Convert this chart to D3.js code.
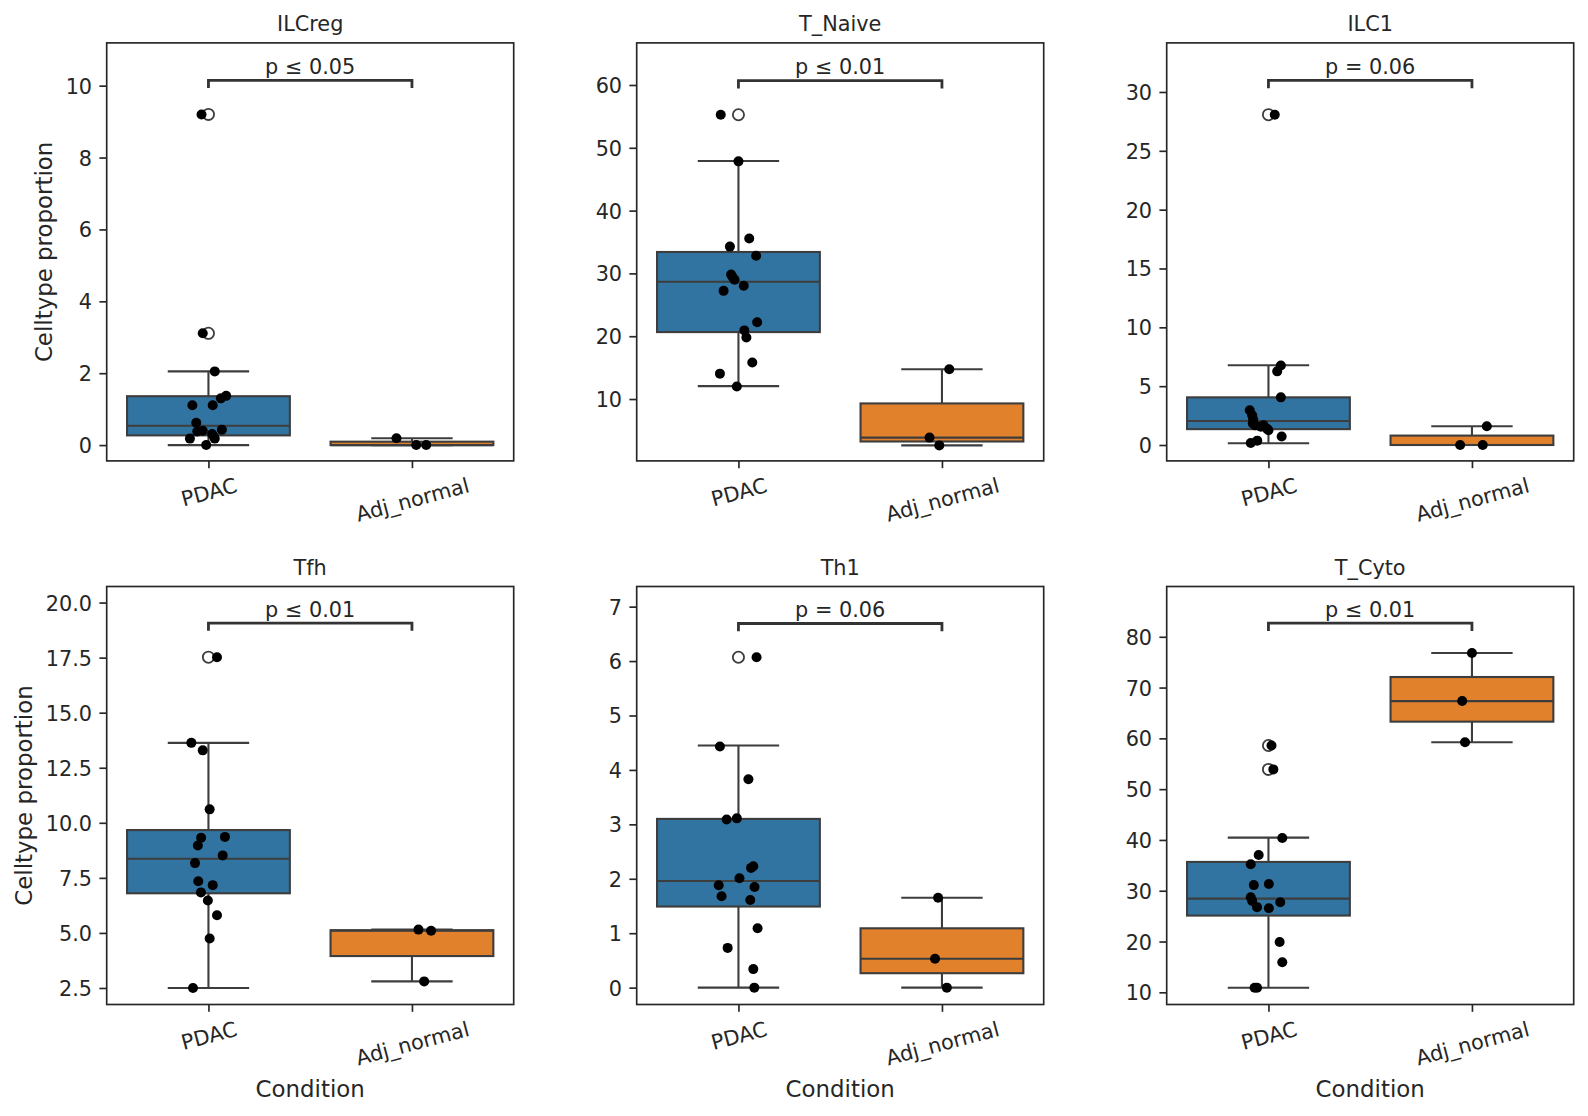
<!DOCTYPE html>
<html><head><meta charset="utf-8">
<script src="https://cdn.jsdelivr.net/npm/d3@7"></script>
<style>
body{margin:0;background:#fff}
svg text{font-family:"DejaVu Sans",sans-serif;fill:#262626}
</style>
</head><body>
<svg id="c" width="1588" height="1116"></svg>
<script>
// ---------- DATA ----------
const panels = ["ILCreg","T_Naive","ILC1","Tfh","Th1","T_Cyto"];
const conditions = ["PDAC","Adj_normal"];
const pLabels = ["p \u2264 0.05","p \u2264 0.01","p = 0.06","p \u2264 0.01","p = 0.06","p \u2264 0.01"];
const yDomains = [[-0.44,11.19],[0.15,66.7],[-1.35,34.17],[1.75,20.73],[-0.31,7.37],[7.6,89.9]];
const yTicks = [
  [0,2,4,6,8,10],
  [10,20,30,40,50,60],
  [0,5,10,15,20,25,30],
  [2.5,5,7.5,10,12.5,15,17.5,20],
  [0,1,2,3,4,5,6,7],
  [10,20,30,40,50,60,70,80]
];
const yTickFormats = ["d","d","d",".1f","d","d"];

// PDAC sample values and their strip jitter (category units)
const pdacValues = [
  [9.2,3.11,2.05,1.37,1.3,1.11,1.11,0.62,0.38,0.4,0.31,0.43,0.18,0.18,0.0,0.24],
  [55.26,47.84,35.57,34.27,32.82,29.81,29.0,28.03,27.22,22.22,20.93,19.8,15.81,14.04,11.99,29.4],
  [28.07,6.75,6.26,4.05,2.96,2.53,2.18,1.84,1.67,1.67,1.38,1.26,0.72,0.37,0.17,1.55],
  [17.52,13.63,13.29,10.61,9.32,9.36,8.97,8.52,8.17,7.35,7.17,6.84,6.47,5.8,4.75,2.5],
  [6.07,4.43,3.83,3.09,3.11,2.23,2.2,2.01,1.88,1.85,1.68,1.61,1.09,0.73,0.34,0.0],
  [58.59,53.89,40.37,37.04,35.23,31.33,31.11,28.73,28.0,27.72,26.77,26.56,19.91,15.93,10.9,10.9]
];
const pdacJitter = [
  [-0.034,-0.028,0.031,0.087,0.061,-0.079,0.021,-0.06,-0.055,-0.028,0.018,0.066,-0.091,0.031,-0.011,0.026],
  [-0.087,0,0.053,-0.042,0.087,-0.036,-0.019,0.026,-0.073,0.092,0.029,0.039,0.068,-0.091,-0.008,-0.028],
  [0.031,0.061,0.043,0.061,-0.092,-0.08,-0.075,-0.077,-0.065,-0.024,-0.007,0,0.065,-0.055,-0.087,-0.037],
  [0.042,-0.084,-0.028,0.006,-0.036,0.081,-0.052,0.07,-0.066,-0.05,0.021,-0.037,-0.003,0.042,0.006,-0.076],
  [0.089,-0.091,0.049,-0.058,-0.008,0.073,0.062,0.005,-0.097,0.079,-0.083,0.058,0.094,-0.053,0.073,0.078],
  [0.015,0.024,0.068,-0.048,-0.087,0.002,-0.072,-0.087,-0.08,0.058,-0.056,0.002,0.055,0.068,-0.068,-0.056]
];
// Adj_normal sample values and jitter
const adjValues = [
  [0.19,0.0,0.0],
  [14.74,3.86,2.62],
  [1.6,0.0,0.0],
  [5.15,5.1,2.8],
  [1.65,0.53,0.0],
  [76.81,67.34,59.24]
];
const adjJitter = [
  [-0.076,0.021,0.07],
  [0.036,-0.061,-0.013],
  [0.073,-0.058,0.053],
  [0.032,0.094,0.06],
  [-0.019,-0.034,0.024],
  [0,-0.048,-0.034]
];
// box statistics [whisker low, Q1, median, Q3, whisker high]
const pdacBox = [
  [0,0.27,0.54,1.36,2.05],
  [12.05,20.66,28.68,33.41,47.89],
  [0.15,1.35,2.04,4.05,6.78],
  [2.5,6.8,8.37,9.67,13.63],
  [0,1.49,1.96,3.1,4.45],
  [10.9,25.11,28.44,35.67,40.45]
];
const adjBox = [
  [0,0,0,0.095,0.19],
  [2.62,3.24,3.86,9.3,14.74],
  [0,0,0,0.8,1.6],
  [2.8,3.95,5.1,5.125,5.15],
  [0,0.265,0.53,1.09,1.65],
  [59.24,63.29,67.34,72.08,76.81]
];
const pdacFliers = [[9.2,3.11],[55.26],[28.07],[17.52],[6.07],[58.59,53.89]];
const adjFliers = [[],[],[],[],[],[]];
const bracketLevels = [10.15,60.7,30.98,19.07,6.69,82.67];

// ---------- LAYOUT / STYLE ----------
const colX = [106.7,636.7,1166.7], rowY = [42.9,586.5];
const PW = 407, PH = 418;
const boxColors = ["#3274a1","#e1812c"];
const edge = "#3d3d3d", axisCol = "#262626";
const FS = 20.8, LFS = 22.9;
const TICK = 7.3, PAD = 7.3;
const sin15 = Math.sin(15*Math.PI/180), cos15 = Math.cos(15*Math.PI/180);

const svg = d3.select("#c");

panels.forEach((name,i)=>{
  const col = i%3, row = Math.floor(i/3);
  const x0 = colX[col], y0 = rowY[row];
  const x = d3.scaleLinear().domain([-0.5,1.5]).range([x0,x0+PW]);
  const y = d3.scaleLinear().domain(yDomains[i]).range([y0+PH,y0]);
  const g = svg.append("g");

  const groups = [
    {vals:pdacValues[i], jit:pdacJitter[i], box:pdacBox[i], fl:pdacFliers[i]},
    {vals:adjValues[i], jit:adjJitter[i], box:adjBox[i], fl:adjFliers[i]}
  ];
  const hw = x(0.4)-x(0), cw = x(0.2)-x(0);

  groups.forEach((gr,k)=>{
    const cx = x(k);
    const [lo,q1,md,q3,hi] = gr.box;
    const ln = (xa,ya,xb,yb)=>g.append("line").attr("x1",xa).attr("y1",ya).attr("x2",xb).attr("y2",yb)
        .attr("stroke",edge).attr("stroke-width",2.1);
    ln(cx,y(q3),cx,y(hi));
    ln(cx,y(q1),cx,y(lo));
    ln(cx-cw,y(hi),cx+cw,y(hi));
    ln(cx-cw,y(lo),cx+cw,y(lo));
    g.append("rect").attr("x",cx-hw).attr("y",y(q3)).attr("width",2*hw)
      .attr("height",Math.max(0,y(q1)-y(q3)))
      .attr("fill",boxColors[k]).attr("stroke",edge).attr("stroke-width",2.1);
    ln(cx-hw,y(md),cx+hw,y(md));
    g.selectAll(null).data(gr.fl).enter().append("circle")
      .attr("cx",cx).attr("cy",d=>y(d)).attr("r",5.6)
      .attr("fill","none").attr("stroke",edge).attr("stroke-width",1.8);
  });

  groups.forEach((gr,k)=>{
    g.selectAll(null).data(gr.vals.map((v,j)=>({v,j:gr.jit[j]}))).enter().append("circle")
      .attr("cx",d=>x(k+d.j)).attr("cy",d=>y(d.v)).attr("r",5).attr("fill","#000");
  });

  // significance bracket
  const by = y(bracketLevels[i]);
  g.append("path")
    .attr("d",`M${x(0)},${by+7.8}L${x(0)},${by}L${x(1)},${by}L${x(1)},${by+7.8}`)
    .attr("fill","none").attr("stroke","#333").attr("stroke-width",2.8);
  g.append("text").attr("x",(x(0)+x(1))/2).attr("y",by-6.5)
    .attr("text-anchor","middle").style("font-size",FS+"px").text(pLabels[i]);

  // y axis
  const ya = g.append("g").attr("transform",`translate(${x0},0)`)
    .call(d3.axisLeft(y).tickValues(yTicks[i]).tickFormat(d3.format(yTickFormats[i]))
      .tickSize(TICK).tickPadding(PAD));
  ya.select(".domain").remove();
  ya.selectAll(".tick line").attr("stroke",axisCol).attr("stroke-width",1.67);
  ya.selectAll(".tick text").style("font-size",FS+"px").style("font-family","DejaVu Sans")
    .attr("fill",axisCol).attr("dy","0.36em");

  // x axis
  const xa = g.append("g").attr("transform",`translate(0,${y0+PH})`)
    .call(d3.axisBottom(x).tickValues([0,1]).tickFormat(k=>conditions[k]).tickSize(TICK).tickPadding(PAD));
  xa.select(".domain").remove();
  xa.selectAll(".tick line").attr("stroke",axisCol).attr("stroke-width",1.67);
  xa.selectAll(".tick text").style("font-size",FS+"px").style("font-family","DejaVu Sans")
    .attr("fill",axisCol).attr("y",0).attr("dy","0.36em")
    .each(function(){
      const w = this.getComputedTextLength();
      const off = TICK+PAD+0.5+(w*sin15+FS*0.85*cos15)/2;
      d3.select(this).attr("transform",`translate(0,${off}) rotate(-15)`);
    });

  // spine
  g.append("rect").attr("x",x0).attr("y",y0).attr("width",PW).attr("height",PH)
    .attr("fill","none").attr("stroke",axisCol).attr("stroke-width",1.67);

  // title
  g.append("text").attr("x",x0+PW/2).attr("y",y0-11.5).attr("text-anchor","middle")
    .style("font-size",FS+"px").text(name);

  // axis labels
  if(col===0){
    let maxW = 0;
    ya.selectAll(".tick text").each(function(){maxW=Math.max(maxW,this.getBBox().width);});
    const right = x0-TICK-PAD-maxW-8.3;
    const bx = right-0.24*LFS;
    g.append("text").attr("transform",`translate(${bx},${y0+PH/2}) rotate(-90)`)
      .attr("text-anchor","middle").style("font-size",LFS+"px").text("Celltype proportion");
  }
  if(row===1){
    g.append("text").attr("x",x0+PW/2).attr("y",y0+PH+92).attr("text-anchor","middle")
      .style("font-size",LFS+"px").text("Condition");
  }
});
</script>
</body></html>
